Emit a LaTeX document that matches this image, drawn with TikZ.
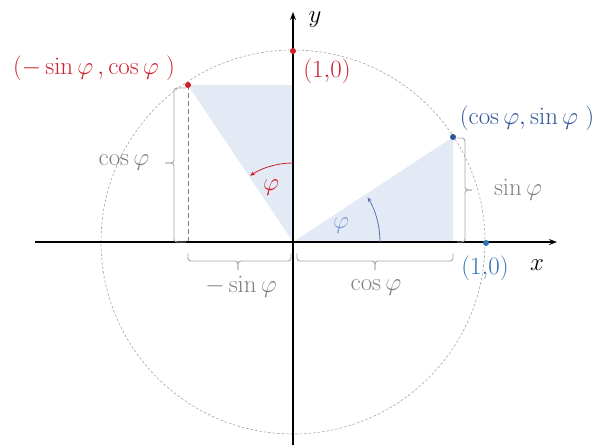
\documentclass[tikz,border=0pt]{standalone}
\usetikzlibrary{arrows.meta}
\definecolor{cred}{HTML}{D0202A}
\definecolor{cdblue}{HTML}{2F5597}
\definecolor{cblue}{HTML}{2E75B6}
\definecolor{clblue}{HTML}{7F9FD5}
\definecolor{cfill}{HTML}{E4EAF5}
\definecolor{cgray}{HTML}{7F7F7F}
\definecolor{cbrace}{HTML}{A6A6A6}
\tikzset{
  lbl/.style={font=\fontsize{24}{28}\selectfont, inner sep=0pt},
  axis/.style={line width=1.6pt, -{Stealth[length=8pt,width=6pt]}},
  dot/.style={circle, inner sep=0pt, minimum size=6pt},
  bracestyle/.style={draw=cbrace, line width=0.9pt, rounded corners=3pt},
}
\begin{document}
\begin{tikzpicture}[x=1pt,y=-1pt]
\useasboundingbox (0,0) rectangle (604,445);
\coordinate (O) at (293,242);
\coordinate (P) at (453,137);
\coordinate (Pb) at (453,242);
\coordinate (Q) at (188,85);
\coordinate (Qb) at (188,242);
\coordinate (Qt) at (293,85);
% shaded triangles
\fill[cfill] (O) -- (P) -- (Pb) -- cycle;
\fill[cfill] (O) -- (Q) -- (Qt) -- cycle;
% circle
\draw[cgray!70, line width=0.6pt, dash pattern=on 2.5pt off 2pt] (O) circle[radius=192];
% dashed vertical
\draw[cgray, line width=0.9pt, dash pattern=on 5pt off 3pt] (Q) -- (Qb);
% axes
\coordinate (xs) at (35,242);
\coordinate (xe) at (557,242);
\coordinate (ys) at (293,445);
\coordinate (ye) at (293,12);
\draw[axis] (xs) -- (xe);
\draw[axis] (ys) -- (ye);
\node[lbl] (xl) at (537,265) {$x$};
\node[lbl] (yl) at (315,20) {$y$};
% braces (bracket style)
\draw[bracestyle] (186,88) -- (174,88) -- (174,163) -- (165,163);
\draw[bracestyle] (165,163) -- (174,163) -- (174,242) -- (186,242);
\draw[bracestyle] (188,253) -- (188,261) -- (238,261) -- (238,270);
\draw[bracestyle] (238,270) -- (238,261) -- (291,261) -- (291,253);
\draw[bracestyle] (297,253) -- (297,261) -- (375,261) -- (375,270);
\draw[bracestyle] (375,270) -- (375,261) -- (453,261) -- (453,253);
\draw[bracestyle] (457,138) -- (465,138) -- (465,190) -- (472,190);
\draw[bracestyle] (472,190) -- (465,190) -- (465,242) -- (457,242);
% angle arcs
\draw[cred, line width=0.8pt, -{Stealth[length=5pt,width=4pt]}] (293,163) arc[start angle=-90, end angle=-123, radius=79];
\draw[cdblue!80, line width=0.8pt, -{Stealth[length=5pt,width=4pt]}] (380,242) arc[start angle=0, end angle=-31, radius=87];
\node[lbl, text=cred] (phir) at (271,188) {$\varphi$};
\node[lbl, text=clblue] (phib) at (341,226) {$\varphi$};
% dots
\node[dot, fill=cred] (dQ) at (Q) {};
\node[dot, fill=cred] (dY) at (293,51) {};
\node[dot, fill=cdblue] (dP) at (P) {};
\node[dot, fill=cblue] (dX) at (486,243) {};
% labels
\node[lbl, text=cred] (lQ) at (94,68) {$(-\sin\varphi\,,\cos\varphi\ )$};
\node[lbl, text=cred] (lY) at (327,71) {$(1{,}0)$};
\node[lbl, text=cdblue] (lP) at (527,118) {$(\cos\varphi,\sin\varphi\ )$};
\node[lbl, text=cblue] (lX) at (485,268) {$(1{,}0)$};
\node[lbl, text=cgray] (lc1) at (124,163) {$\cos\varphi$};
\node[lbl, text=cgray] (ls1) at (241,287) {$-\sin\varphi$};
\node[lbl, text=cgray] (lc2) at (376,288) {$\cos\varphi$};
\node[lbl, text=cgray] (ls2) at (518,190) {$\sin\varphi$};
\end{tikzpicture}
\end{document}
